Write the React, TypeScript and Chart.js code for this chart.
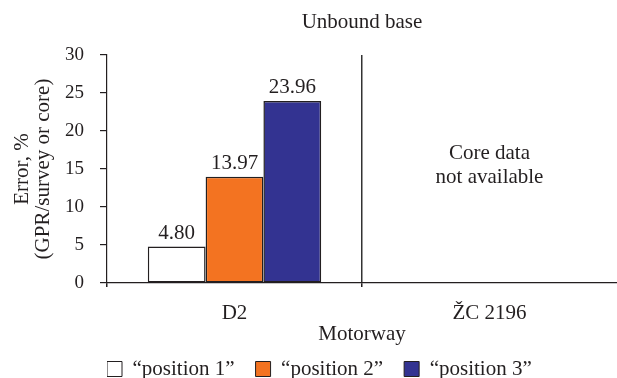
import React, { useEffect, useRef } from "react";
import { Chart, registerables } from "chart.js";

Chart.register(...registerables);

const categories = ["D2", "ŽC 2196"];
const seriesLabels = ["“position 1”", "“position 2”", "“position 3”"];
const position1 = [4.8, null];
const position2 = [13.97, null];
const position3 = [23.96, null];
const seriesColors = ["#ffffff", "#f37321", "#333391"];
const yMin = 0;
const yMax = 30;
const yStep = 5;
const chartTitle = "Unbound base";
const yTitle = ["Error, %", "(GPR/survey or core)"];
const xTitle = "Motorway";
const noteLines = ["Core data", "not available"];
const noteCategory = 1;
const noteValues = [17.0, 13.9];

const FONT = "'Liberation Serif', 'Times New Roman', serif";
const INK = "#231f20";
const LEGEND_GAP = "    ";

const valueLabels = {
  id: "valueLabels",
  afterDatasetsDraw(chart: any) {
    const { ctx } = chart;
    ctx.save();
    ctx.font = `21px ${FONT}`;
    ctx.fillStyle = INK;
    ctx.textAlign = "center";
    ctx.textBaseline = "alphabetic";
    chart.data.datasets.forEach((ds: any, di: number) => {
      const meta = chart.getDatasetMeta(di);
      meta.data.forEach((el: any, i: number) => {
        const v = ds.data[i];
        if (v === null || v === undefined) return;
        ctx.fillText(Number(v).toFixed(2), el.x, el.y - 8);
      });
    });
    const xs = chart.scales.x;
    const ys = chart.scales.y;
    const cx = xs.getPixelForValue(noteCategory);
    ctx.textBaseline = "middle";
    noteLines.forEach((t, i) => {
      ctx.fillText(t, cx, ys.getPixelForValue(noteValues[i]));
    });
    ctx.restore();
  },
};

export default function App() {
  const ref = useRef<HTMLCanvasElement | null>(null);
  useEffect(() => {
    if (!ref.current) return;
    const data = [position1, position2, position3];
    const chart = new Chart(ref.current, {
      type: "bar",
      data: {
        labels: categories,
        datasets: seriesLabels.map((label, i) => ({
          label,
          data: data[i] as any,
          backgroundColor: seriesColors[i],
          borderColor: INK,
          borderWidth: 1.5,
          borderSkipped: false,
          barPercentage: 1,
          categoryPercentage: 0.68,
        })),
      },
      options: {
        responsive: false,
        animation: false,
        layout: { padding: { left: 0, right: 0, top: 0, bottom: -11.5 } },
        plugins: {
          tooltip: { enabled: false },
          title: {
            display: true,
            fullSize: false,
            text: chartTitle,
            color: INK,
            font: { family: FONT, size: 21, weight: "normal", lineHeight: 1.2 },
            padding: { top: 9.4, bottom: 20.4 },
          },
          legend: {
            position: "bottom",
            align: "start",
            fullSize: false,
            labels: {
              color: INK,
              font: { family: FONT, size: 21, lineHeight: 1 },
              boxWidth: 15,
              boxHeight: 15,
              padding: 0,
              generateLabels: (c: any) =>
                c.data.datasets.map((ds: any, i: number) => ({
                  text: i < c.data.datasets.length - 1 ? ds.label + LEGEND_GAP : ds.label,
                  fillStyle: ds.backgroundColor,
                  strokeStyle: INK,
                  lineWidth: 1,
                  datasetIndex: i,
                  hidden: false,
                  fontColor: INK,
                })),
            },
          },
        },
        scales: {
          x: {
            offset: true,
            border: { display: true, color: INK, width: 1.2 },
            grid: {
              offset: true,
              drawOnChartArea: true,
              drawTicks: true,
              tickLength: 4,
              color: (ctx: any) => (ctx.index === 1 ? "#333333" : "rgba(0,0,0,0)"),
              tickColor: (ctx: any) => (ctx.index <= 1 ? INK : "rgba(0,0,0,0)"),
              lineWidth: 1.5,
            },
            ticks: {
              color: INK,
              font: { family: FONT, size: 21, lineHeight: 1 },
              padding: 15.5,
            },
            title: {
              display: true,
              text: xTitle,
              color: INK,
              font: { family: FONT, size: 21, lineHeight: 1 },
              padding: { top: -15, bottom: 13.5 },
            },
          },
          y: {
            min: yMin,
            max: yMax,
            border: { display: true, color: INK, width: 1.2 },
            grid: {
              drawOnChartArea: false,
              drawTicks: true,
              tickLength: 7,
              tickColor: INK,
              lineWidth: 1.2,
            },
            ticks: {
              stepSize: yStep,
              color: INK,
              font: { family: FONT, size: 19 },
              padding: 16,
            },
            title: {
              display: true,
              text: yTitle,
              color: INK,
              font: { family: FONT, size: 21, lineHeight: 1 },
              padding: { top: 11.5, bottom: -4.5 },
            },
          },
        },
      },
      plugins: [valueLabels],
    });
    return () => chart.destroy();
  }, []);
  return (
    <div style={{ position: "absolute", left: 0, top: 0, width: 617, height: 378, background: "#fff" }}>
      <canvas ref={ref} width={617} height={378} />
    </div>
  );
}
